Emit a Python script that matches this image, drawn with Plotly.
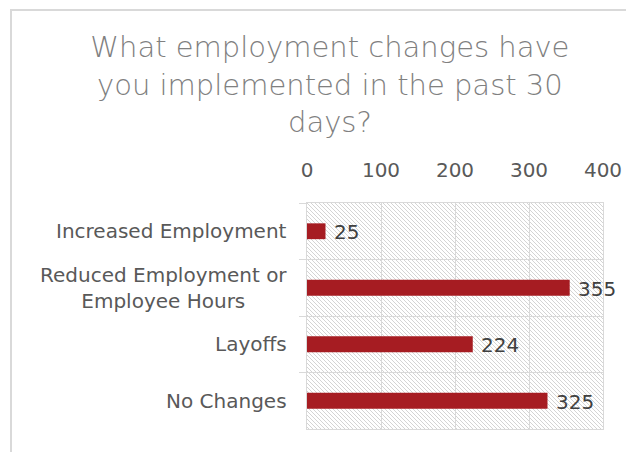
import base64
import plotly.graph_objects as go

# Survey responses
categories = ["Increased Employment", "Reduced Employment or<br>Employee Hours",
              "Layoffs", "No Changes"]
counts = [25, 355, 224, 325]
x_ticks = [0, 100, 200, 300, 400]

title_text = "What employment changes have<br>you implemented in the past 30<br>days?"

W, H = 626, 452
ML, MR, MT, MB = 307, 23, 203, 23
PW, PH = W - ML - MR, H - MT - MB

FONT = "DejaVu Sans"
BAR = "#a61c22"
GRID = "#d9d9d9"

# Diagonal dotted hatch used as the plot-area fill
tile = 4
rects = "".join(f'<rect x="{i}" y="{i}" width="1" height="1" fill="#d4d4d4"/>' for i in range(tile))
svg = (f'<svg xmlns="http://www.w3.org/2000/svg" width="{PW}" height="{PH}">'
       f'<defs><pattern id="h" width="{tile}" height="{tile}" patternUnits="userSpaceOnUse">'
       f'<rect width="{tile}" height="{tile}" fill="white"/>{rects}</pattern></defs>'
       f'<rect width="{PW}" height="{PH}" fill="url(#h)"/></svg>')
hatch_uri = "data:image/svg+xml;base64," + base64.b64encode(svg.encode()).decode()

fig = go.Figure(go.Bar(
    x=counts, y=categories, orientation="h",
    marker=dict(color=BAR, line=dict(width=0)),
    width=0.28,
    hoverinfo="x+y",
))

# Category labels, centred line-by-line
for cat in categories:
    fig.add_annotation(x=0, y=cat, xref="x", yref="y", text=cat, showarrow=False,
                       xanchor="right", align="center", xshift=-18,
                       font=dict(family=FONT, size=20, color="#595959"))

# Value labels to the right of each bar
for cat, v in zip(categories, counts):
    fig.add_annotation(x=v, y=cat, xref="x", yref="y", text=str(v), showarrow=False,
                       xanchor="left", xshift=6, yshift=-1,
                       font=dict(family=FONT, size=20, color="#404040"))

fig.update_layout(
    width=W, height=H,
    margin=dict(l=ML, r=MR, t=MT, b=MB, autoexpand=False),
    paper_bgcolor="white", plot_bgcolor="rgba(0,0,0,0)",
    showlegend=False,
    bargap=0.72,
    title=dict(text=title_text, x=0.527, xanchor="center", xref="container",
               y=1 - 57 / H, yanchor="top", yref="container",
               font=dict(family=FONT, size=29, color="#808080", weight=200)),
    xaxis=dict(side="top", range=[0, 400], tickvals=x_ticks, showgrid=True,
               gridcolor=GRID, gridwidth=1, showline=True, linecolor=GRID,
               linewidth=1, mirror=True, zeroline=False, ticks="",
               ticklabelstandoff=17,
               tickfont=dict(family=FONT, size=20, color="#595959")),
    yaxis=dict(autorange="reversed", showticklabels=False, tickson="boundaries",
               ticks="outside", ticklen=7, tickcolor=GRID, showgrid=True,
               gridcolor=GRID, showline=True, linecolor=GRID, linewidth=1,
               mirror=True),
    images=[dict(source=hatch_uri, xref="paper", yref="paper", x=0, y=1,
                 sizex=1, sizey=1, sizing="stretch", xanchor="left",
                 yanchor="top", layer="below")],
    shapes=[dict(type="rect", xref="paper", yref="paper",
                 x0=(11 - ML) / PW, x1=(W + 20 - ML) / PW,
                 y0=-(MB + 20) / PH, y1=(H - MB - 10) / PH,
                 line=dict(color=GRID, width=2), fillcolor="rgba(0,0,0,0)",
                 layer="below")],
)

fig.write_html("out.html")
